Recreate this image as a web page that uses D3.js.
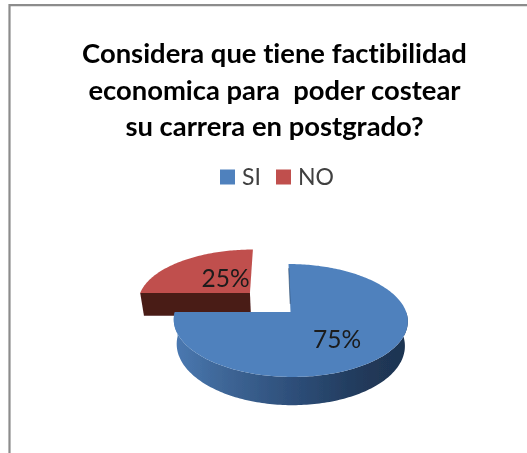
<!DOCTYPE html>
<html><head><meta charset="utf-8">
<script src="https://cdn.jsdelivr.net/npm/d3@7"></script>
<style>html,body{margin:0;padding:0;background:#fff}svg{display:block}text{font-variant-ligatures:none}</style>
</head><body><svg id="c" width="527" height="453"></svg>
<script>
const categories = ["SI", "NO"];
const values = [75, 25];
const labels = ["75%", "25%"];
const colors = ["#4f81bd", "#c0504d"];
const titleLines = ["Considera que tiene factibilidad", "economica para  poder costear", "su carrera en postgrado?"];

const W = 527, H = 453;
const svg = d3.select("#c").attr("viewBox", `0 0 ${W} ${H}`);
const defs = svg.append("defs");
defs.append("filter").attr("id","soft").attr("filterUnits","userSpaceOnUse").attr("x",0).attr("y",0).attr("width",W).attr("height",H)
  .append("feGaussianBlur").attr("stdDeviation",0.5);
const grad = defs.append("linearGradient").attr("id","blueSide").attr("gradientUnits","userSpaceOnUse")
  .attr("x1",174).attr("x2",408).attr("y1",0).attr("y2",0);
[[0,"#4a79b2"],[0.2,"#3f6798"],[0.5,"#2e4f7a"],[0.8,"#213a5b"],[1,"#1e3350"]].forEach(([o,c])=>grad.append("stop").attr("offset",o).attr("stop-color",c));
const root = svg.append("g").attr("filter","url(#soft)");

// frame
root.append("path").attr("d",`M9.5,${H} V5.2 H${W}`).attr("fill","none").attr("stroke","#8c8c8c").attr("stroke-width",2.2);

// title
const font = "Lato, 'Open Sans', sans-serif";
const title = root.append("g").attr("font-family",font).attr("font-weight",700).attr("font-size",27.4).attr("fill","#000").attr("text-anchor","middle");
titleLines.forEach((t,i)=>title.append("text").style("white-space","pre").attr("x",274.5).attr("y",d3.scaleLinear().domain([0,2]).range([63,136])(i)).text(t));

// legend
const legendX = d3.scaleOrdinal().domain(categories).range([220,276]);
const leg = root.append("g").attr("font-family",font).attr("font-size",23).attr("fill","#404040");
categories.forEach((c,i)=>{
  leg.append("rect").attr("x",legendX(c)).attr("y",169.5).attr("width",15).attr("height",15).attr("fill",colors[i]);
  leg.append("text").attr("x",legendX(c)+22).attr("y",184.5).text(c);
});

// perspective pie
const px=290.5, py=312, A=115.7, B=55.2, k=0.15, skew=2, D=24, inset=0.975, explode=0.363;
const proj=(u,v,bottom)=>{
  const s=1/(1-k*v);
  const a=bottom?A*inset:A;
  return [px+a*u*s+skew*v, py+B*v*s+(bottom?D*s:0)];
};
const arcs=d3.pie().sort(null)(values);
const pt=(ang,r,e,bottom)=>proj(r*Math.sin(ang)+e[0], -r*Math.cos(ang)+e[1], bottom);
const line=d3.line();
const step=0.02;
const angs=(a0,a1)=>{const n=Math.ceil((a1-a0)/step);return d3.range(n+1).map(i=>a0+(a1-a0)*i/n);};

function drawSlice(d,e,sideFill,topFill,frontWalls){
  const outer=angs(d.startAngle,d.endAngle);
  const front=outer.filter(a=>Math.cos(a)<=0);
  const g=root.append("g");
  if(front.length>1) g.append("path").attr("fill",sideFill).attr("d",line(front.map(a=>pt(a,1,e,false)).concat(front.slice().reverse().map(a=>pt(a,1,e,true))))+"Z");
  frontWalls.forEach(a=>{
    g.append("path").attr("fill",sideFill).attr("d",line([pt(a,0,e,false),pt(a,1,e,false),pt(a,1,e,true),pt(a,0,e,true)])+"Z");
  });
  g.append("path").attr("fill",topFill).attr("d",line([pt(0,0,e,false)].concat(outer.map(a=>pt(a,1,e,false))))+"Z");
}
const mid=(arcs[1].startAngle+arcs[1].endAngle)/2;
drawSlice(arcs[1],[Math.sin(mid)*explode*Math.SQRT2,-Math.cos(mid)*explode*Math.SQRT2],"#4a1a18",colors[1],[arcs[1].startAngle]);
drawSlice(arcs[0],[0,0],"url(#blueSide)",colors[0],[]);
root.append("path").attr("stroke","#24405f").attr("stroke-width",0.6).attr("fill","none")
  .attr("d",line([pt(0,0.9,[0,0],false),pt(0,0.15,[0,0],false)]));

// labels
const lab=root.append("g").attr("font-family",font).attr("font-size",24.5).attr("fill","#1a1a1a").attr("text-anchor","middle");
const labelPos=[[337,348],[225.5,287]];
labels.forEach((t,i)=>lab.append("text").attr("x",labelPos[i][0]).attr("y",labelPos[i][1]).text(t));
</script></body></html>
